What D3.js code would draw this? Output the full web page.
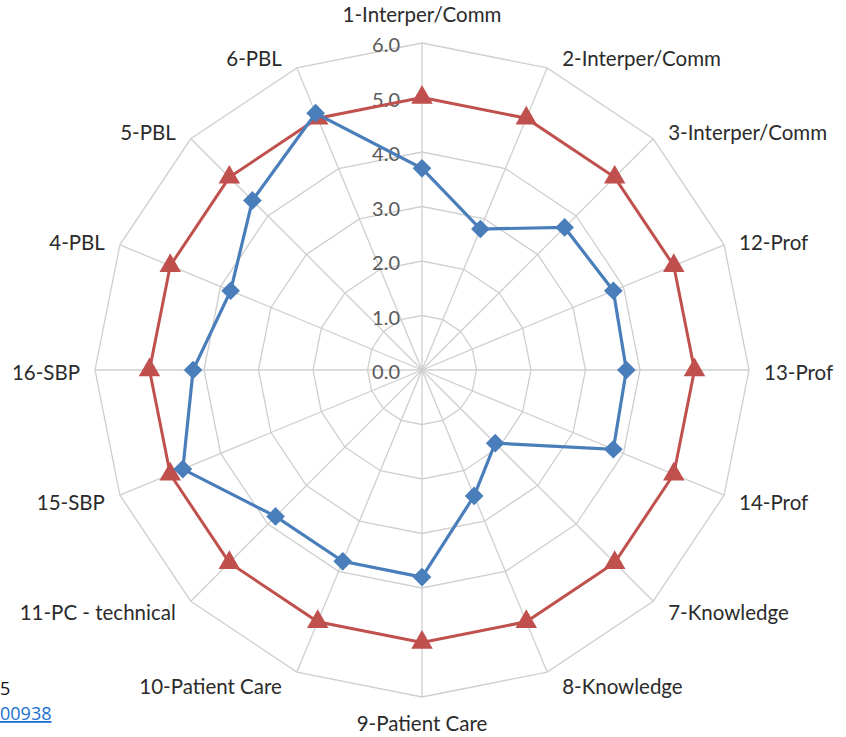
<!DOCTYPE html>
<html>
<head>
<meta charset="utf-8">
<script src="https://cdn.jsdelivr.net/npm/d3@7"></script>
<style>
  body { margin: 0; background: #fff; }
  svg { display: block; }
</style>
</head>
<body>
<svg id="chart" width="846" height="737"></svg>
<script>
var categories = ["1-Interper/Comm", "2-Interper/Comm", "3-Interper/Comm", "12-Prof", "13-Prof", "14-Prof",
    "7-Knowledge", "8-Knowledge", "9-Patient Care", "10-Patient Care", "11-PC - technical",
    "15-SBP", "16-SBP", "4-PBL", "5-PBL", "6-PBL"];
var blueValues = [3.7, 2.8, 3.7, 3.8, 3.75, 3.8, 1.9, 2.5, 3.8, 3.8, 3.8, 4.75, 4.2, 3.8, 4.4, 5.1];
var redValues = [5, 5, 5, 5, 5, 5, 5, 5, 5, 5, 5, 5, 5, 5, 5, 5];
var tickValues = [0, 1, 2, 3, 4, 5, 6];

var svg = d3.select("#chart");
var cx = 422, cy = 370, R = 327;
var font = "Lato, 'Open Sans', sans-serif";

var r = d3.scaleLinear().domain([0, 6]).range([0, R]);
var angle = d3.scalePoint().domain(categories).range([0, 2 * Math.PI * 15 / 16]);

function pt(cat, v) {
    var a = angle(cat);
    return [cx + r(v) * Math.sin(a), cy - r(v) * Math.cos(a)];
}

var g = svg.append("g");

// rings
var ring = d3.line().curve(d3.curveLinearClosed);
g.selectAll(".ring")
    .data(tickValues.slice(1))
    .enter()
    .append("path")
    .attr("class", "ring")
    .attr("d", function (t) { return ring(categories.map(function (c) { return pt(c, t); })); })
    .attr("fill", "none")
    .attr("stroke", "#cfcfcf")
    .attr("stroke-width", 1.3);

// spokes
g.selectAll(".spoke")
    .data(categories)
    .enter()
    .append("line")
    .attr("class", "spoke")
    .attr("x1", cx).attr("y1", cy)
    .attr("x2", function (c) { return pt(c, 6)[0]; })
    .attr("y2", function (c) { return pt(c, 6)[1]; })
    .attr("stroke", "#cfcfcf")
    .attr("stroke-width", 1.3);

// tick labels
g.selectAll(".tick")
    .data(tickValues)
    .enter()
    .append("text")
    .attr("class", "tick")
    .attr("x", cx - 22)
    .attr("y", function (t) { return cy - r(t) + 1; })
    .attr("text-anchor", "end")
    .attr("dominant-baseline", "central")
    .attr("font-family", font)
    .attr("font-size", 20)
    .style("fill", "#595959")
    .text(function (t) { return d3.format(".1f")(t); });

// category labels
g.selectAll(".cat")
    .data(categories)
    .enter()
    .append("text")
    .attr("class", "cat")
    .attr("x", function (c) {
        var s = Math.sin(angle(c));
        var p = pt(c, 6);
        if (Math.abs(s) < 0.01) return p[0];
        return p[0] + (s > 0 ? 15 : -15);
    })
    .attr("y", function (c) {
        var co = Math.cos(angle(c));
        var p = pt(c, 6);
        if (Math.abs(co) > 0.99) return p[1] + (co > 0 ? -29 : 26);
        return p[1] - 13 * co + 2;
    })
    .attr("text-anchor", function (c) {
        var s = Math.sin(angle(c));
        return Math.abs(s) < 0.01 ? "middle" : (s > 0 ? "start" : "end");
    })
    .attr("dominant-baseline", "central")
    .attr("font-family", font)
    .attr("font-size", 20.5)
    .style("fill", "#2b2b2b")
    .text(function (c) { return c; });

var line = d3.line().curve(d3.curveLinearClosed);

function drawSeries(values, color, symbolType, size, rotate, width) {
    var pts = categories.map(function (c, i) { return pt(c, values[i]); });
    g.append("path")
        .attr("d", line(pts))
        .attr("fill", "none")
        .attr("stroke", color)
        .attr("stroke-width", width);
    g.selectAll(null)
        .data(pts)
        .enter()
        .append("path")
        .attr("transform", function (p) { return "translate(" + p[0] + "," + p[1] + ") rotate(" + rotate + ")"; })
        .attr("d", d3.symbol().type(symbolType).size(size))
        .style("fill", color);
}

drawSeries(redValues, "#c0504d", d3.symbolTriangle, 200, 0, 3);
drawSeries(blueValues, "#4a7ebb", d3.symbolSquare, 175, 45, 3.2);

// cut-off text from the page at the lower left
svg.append("text")
    .attr("x", 0).attr("y", 695)
    .attr("font-family", "Open Sans, sans-serif")
    .attr("font-size", 18)
    .style("fill", "#111")
    .text("5");
svg.append("text")
    .attr("x", 0).attr("y", 720)
    .attr("font-family", "Open Sans, sans-serif")
    .attr("font-size", 18)
    .attr("text-decoration", "underline")
    .style("fill", "#1a6fd1")
    .text("00938");
</script>
</body>
</html>
